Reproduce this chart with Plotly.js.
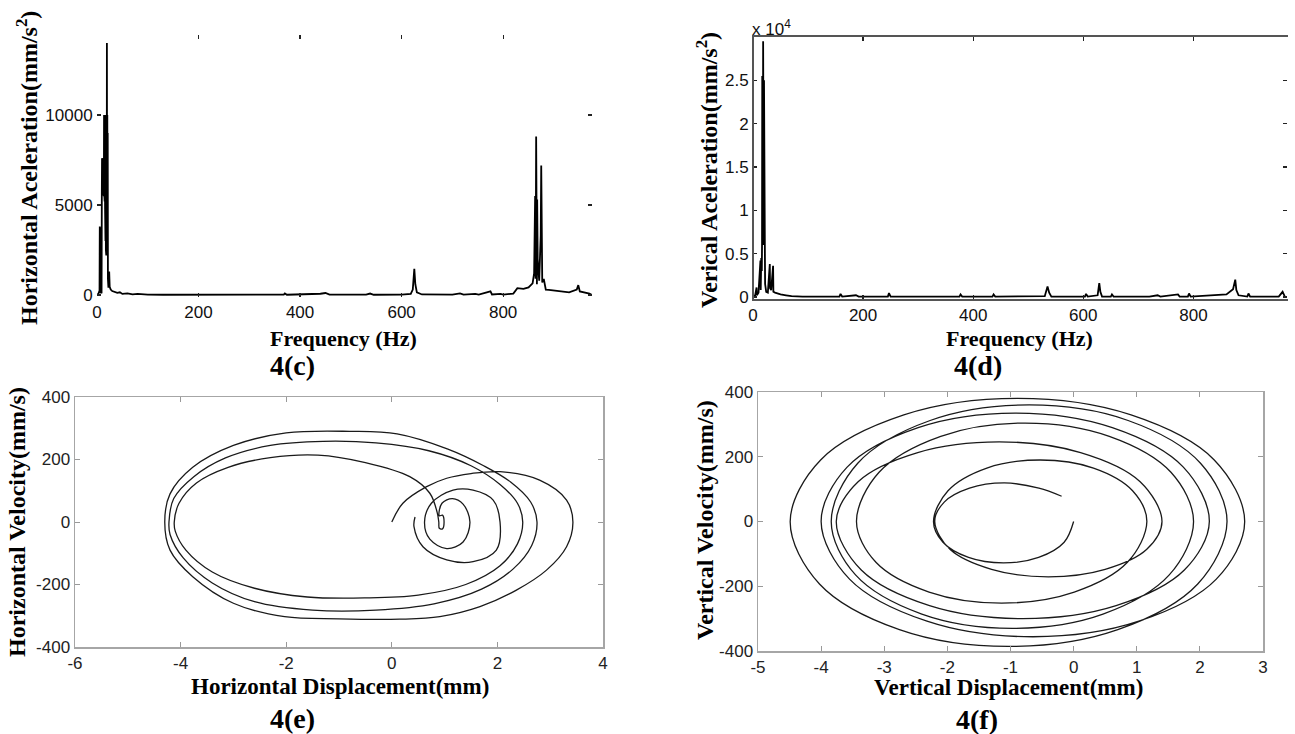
<!DOCTYPE html>
<html>
<head>
<meta charset="utf-8">
<script src="https://cdn.plot.ly/plotly-3.0.1.min.js"></script>
<style>
html,body{margin:0;padding:0;background:#fff;}
#chart{width:1295px;height:734px;}
</style>
</head>
<body>
<div id="chart"></div>
<script>
// ---- 4(c) horizontal acceleration spectrum (Hz, mm/s^2) ----
const freqH = [0,3,5,5.5,6,6.5,7,8,9,9.5,9.9,10.3,10.7,11.1,11.5,11.9,12.3,12.7,13.1,13.5,13.9,14.3,14.7,15.1,15.5,15.9,16.3,16.7,17.1,17.5,17.9,18.3,18.7,19.1,19.5,19.9,20.3,20.7,21.1,21.5,22.5,24,25,27,30,35,40,45,50,60,70,80,90,100,130,200,300,368,370,374,440,450,458,530,538,545,600,618,622,625,627,630,640,700,715,722,745,752,775,778,795,800,820,828,840,850,858,861,863,864,865,865.5,866,866.5,867,868,871,874,875,875.5,876,877,880,884,890,900,915,930,945,948,951,960,970,975];
const accH  = [0,80,250,3800,400,3500,150,100,100,5600,7600,5800,7500,5600,7600,5700,7400,5600,7600,5500,10000,5600,9900,5200,10000,4800,10000,3000,10000,2500,9800,2200,10000,2300,14000,2200,10000,2600,9000,900,400,1300,450,300,220,160,120,150,60,90,40,60,30,20,15,15,15,25,90,15,70,110,20,20,80,15,20,60,300,1450,600,150,30,20,90,20,60,20,200,30,60,20,80,380,340,420,650,1200,5500,900,8800,1500,6800,600,5300,2000,800,3300,7200,2500,7000,700,900,300,280,250,180,150,300,550,200,150,80,0];

// ---- 4(d) vertical acceleration spectrum (Hz, x10^4 mm/s^2) ----
const freqV = [0,4,6.5,7,10,13.5,14,15,16,16.4,16.8,17.2,17.6,18,18.4,18.8,19.2,19.6,20,20.4,20.8,21.2,21.6,22,24,27,30.5,31,33,36.5,37,40,45,50,60,70,90,157,159,162,187,192,245,247,250,375,377,380,435,437,440,530,535,538,542,603,605,608,626,629,631,634,650,652,655,720,735,740,772,775,790,792,795,860,872,876,878,882,898,900,903,955,962,966,970];
const accV  = [0,0.02,0.11,0.02,0.05,0.42,0.08,0.45,0.3,0.6,2.55,0.6,1.5,1.1,2.95,1.1,1.5,0.6,2.5,0.6,1.5,1.1,0.5,0.15,0.06,0.05,0.38,0.1,0.08,0.36,0.06,0.05,0.04,0.03,0.02,0.01,0.005,0.005,0.035,0.005,0.02,0.005,0.005,0.045,0.005,0.005,0.03,0.005,0.005,0.03,0.005,0.01,0.12,0.05,0.005,0.005,0.035,0.005,0.02,0.16,0.06,0.005,0.005,0.03,0.005,0.005,0.02,0.005,0.03,0.005,0.005,0.04,0.005,0.03,0.09,0.2,0.08,0.02,0.005,0.04,0.005,0.005,0.06,0.005,0];

// ---- 4(e) horizontal phase portrait (mm, mm/s) ----
const dispH = [0,0.21,0.66,1.04,1.5,2.05,2.8,3.31,3.43,
  3.31,2.93,2.36,1.67,0.91,0.15,-1.0,-2.03,-3.0,-3.77,-4.2,-4.3,
  -4.2,-3.77,-3.0,-2.0,-0.8,0.1,1.05,1.74,2.25,2.63,2.75,
  2.65,2.3,1.7,0.8,-0.3,-1.5,-2.6,-3.4,-3.95,-4.2,-4.22,
  -4.13,-3.75,-3.15,-2.3,-1.3,-0.3,0.7,1.5,2.05,2.38,2.48,
  2.38,2.05,1.4,0.5,-0.5,-1.6,-2.6,-3.4,-3.9,-4.1,-4.12,
  -4.03,-3.7,-3.1,-2.3,-1.4,-0.5,0.34,0.72,0.86,0.89,
  0.9,0.96,0.99,0.96,0.9,
  0.95,1.15,1.35,1.48,1.35,1.04,0.72,0.62,0.75,1.16,1.54,1.92,2.05,1.98,1.54,1.04,0.59,0.42,0.44];
const velH  = [0,60,113,140,155,161,134,70,0,
  -79,-154,-218,-271,-303,-311,-310,-303,-260,-175,-90,0,
  90,175,245,285,290,282,234,180,128,64,0,
  -75,-150,-215,-262,-282,-282,-255,-195,-115,-40,0,
  75,145,205,245,258,253,228,180,120,60,0,
  -70,-140,-200,-234,-243,-240,-212,-160,-90,-30,0,
  60,125,175,206,214,190,145,92,30,0,
  -20,-22,0,22,20,
  60,75,57,0,-64,-85,-55,0,60,102,102,70,0,-90,-127,-121,-79,-15,16];

// ---- 4(f) vertical phase portrait (mm, mm/s) ----
const dispV = [0,-0.15,-0.555,-1.11,-1.665,-2.07,-2.22,
  -1.99,-1.375,-0.53,0.315,0.934,1.16,
  0.852,0.01,-1.14,-2.29,-3.132,-3.44,
  -3.082,-2.105,-0.77,0.565,1.542,1.9,
  1.515,0.465,-0.97,-2.405,-3.455,-3.84,
  -3.42,-2.273,-0.705,0.863,2.01,2.43,
  1.966,0.70,-1.03,-2.76,-4.026,-4.49,
  -4.008,-2.69,-0.89,0.91,2.228,2.71,
  2.26,1.033,-0.645,-2.323,-3.55,-4.0,
  -3.588,-2.463,-0.925,0.613,1.738,2.15,
  1.754,0.673,-0.805,-2.283,-3.364,-3.76,
  -3.414,-2.47,-1.18,0.11,1.054,1.4,
  1.159,0.5,-0.4,-1.3,-1.959,-2.2,
  -2.05,-1.65,-1.1,-0.55,-0.19];
const velV  = [0,-64,-111,-128,-111,-64,0,
  95,165,190,165,95,0,
  -126,-218,-252,-218,-126,0,
  152,263,304,263,152,0,
  -165,-286,-330,-286,-165,0,
  180,312,360,312,180,0,
  -193,-334,-386,-334,-193,0,
  190,329,380,329,190,0,
  -178,-308,-356,-308,-178,0,
  168,290,335,290,168,0,
  -150,-260,-300,-260,-150,0,
  123,213,246,213,123,0,
  -86,-148,-171,-148,-86,0,
  60,103,119,103,78];

// ---- tick labels ----
const freqTicks = [0,200,400,600,800];
const accHTicks = [0,5000,10000];
const accHTickText = ['0','5000','10000'];
const accVTicks = [0,0.5,1,1.5,2,2.5];
const accVTickText = ['0','0.5','1','1.5','2','2.5'];
const dispHTicks = [-6,-4,-2,0,2,4];
const dispHTickText = ['-6','-4','-2','0','2','4'];
const dispVTicks = [-5,-4,-3,-2,-1,0,1,2,3];
const dispVTickText = ['-5','-4','-3','-2','-1','0','1','2','3'];
const velTicks = [-400,-200,0,200,400];
const velTickText = ['-400','-200','0','200','400'];

const tickFont = {family:'Liberation Sans, Arial, sans-serif', size:17, color:'#111'};
const serif = 'Liberation Serif, Times New Roman, serif';

function specAxis(extra){
  return Object.assign({ticks:'inside', ticklen:4, tickwidth:1.2, tickcolor:'#222',
    showline:true, linecolor:'rgba(0,0,0,0)', mirror:'ticks', showgrid:false, zeroline:false,
    tickfont:tickFont, fixedrange:true}, extra);
}
function boxAxis(extra){
  return Object.assign({ticks:'inside', ticklen:5, tickwidth:1, tickcolor:'#999',
    showline:true, linecolor:'#a6a6a6', linewidth:1.5, mirror:'ticks', showgrid:false, zeroline:false,
    tickfont:Object.assign({}, tickFont, {color:'#222'}), fixedrange:true}, extra);
}

const traces = [
  {x:freqH, y:accH, xaxis:'x', yaxis:'y', mode:'lines', line:{color:'#000', width:1.8}, hoverinfo:'skip'},
  {x:freqV, y:accV, xaxis:'x2', yaxis:'y2', mode:'lines', line:{color:'#000', width:1.8}, hoverinfo:'skip'},
  {x:dispH, y:velH, xaxis:'x3', yaxis:'y3', mode:'lines', line:{color:'#1a1a1a', width:1.3, shape:'spline', smoothing:1}, hoverinfo:'skip'},
  {x:dispV, y:velV, xaxis:'x4', yaxis:'y4', mode:'lines', line:{color:'#1a1a1a', width:1.3, shape:'spline', smoothing:1}, hoverinfo:'skip'}
];

function ann(text, px, py, size, angle, extra){
  return Object.assign({text:text, xref:'paper', yref:'paper', x:px/1295, y:1-py/734,
    xanchor:'center', yanchor:'middle', showarrow:false, textangle:angle||0,
    font:{family:serif, size:size, color:'#000'}}, extra||{});
}

const layout = {
  width:1295, height:734,
  margin:{l:0, r:0, t:0, b:0},
  paper_bgcolor:'#fff', plot_bgcolor:'rgba(0,0,0,0)',
  showlegend:false,
  xaxis: specAxis({domain:[97/1295, 592/1295], range:[0,975], tickvals:freqTicks, anchor:'y'}),
  yaxis: specAxis({domain:[1-297/734, 1-35/734], range:[-111,14444], tickvals:accHTicks, ticktext:accHTickText, anchor:'x'}),
  xaxis2: specAxis({domain:[753/1295, 1287/1295], range:[0,970], tickvals:freqTicks, anchor:'y2',
    linecolor:'#555', linewidth:2}),
  yaxis2: specAxis({domain:[1-299/734, 1-37/734], range:[-0.023,3.0], tickvals:accVTicks, ticktext:accVTickText, anchor:'x2'}),
  xaxis3: boxAxis({domain:[75/1295, 603/1295], range:[-6,4], tickvals:dispHTicks, ticktext:dispHTickText, anchor:'y3'}),
  yaxis3: boxAxis({domain:[1-647/734, 1-397/734], range:[-400,400], tickvals:velTicks, ticktext:velTickText, anchor:'x3'}),
  xaxis4: boxAxis({domain:[758/1295, 1263/1295], range:[-5,3], tickvals:dispVTicks, ticktext:dispVTickText, anchor:'y4'}),
  yaxis4: boxAxis({domain:[1-651/734, 1-392/734], range:[-400,400], tickvals:velTicks, ticktext:velTickText, anchor:'x4'}),
  shapes:[
    {type:'line', xref:'x2 domain', yref:'y2 domain', x0:0, x1:0, y0:0, y1:1, line:{color:'#555', width:2}}
  ],
  annotations:[
    ann('<b>Horizontal Aceleration(mm/s<sup>2</sup>)</b>', 27, 168, 24, -90),
    ann('<b>Frequency (Hz)</b>', 343, 338, 22),
    ann('<b>4(c)</b>', 292, 366, 28),
    ann('<b>Verical Aceleration(mm/s<sup>2</sup>)</b>', 707, 170, 24, -90),
    ann('<b>Frequency (Hz)</b>', 1019, 338, 22),
    ann('<b>4(d)</b>', 978, 366, 28),
    ann('x 10<sup>4</sup>', 750, 28, 17, 0, {xanchor:'left', font:{family:'Liberation Sans, Arial, sans-serif', size:17, color:'#111'}}),
    ann('<b>Horizontal Velocity(mm/s)</b>', 17, 522, 24, -90),
    ann('<b>Horizontal Displacement(mm)</b>', 340, 686, 23),
    ann('<b>4(e)</b>', 292, 718, 28),
    ann('<b>Vertical Velocity(mm/s)</b>', 705, 520, 24, -90),
    ann('<b>Vertical Displacement(mm)</b>', 1008, 687, 23),
    ann('<b>4(f)</b>', 977, 719, 28)
  ]
};

Plotly.newPlot('chart', traces, layout, {staticPlot:true, displayModeBar:false});
</script>
</body>
</html>
